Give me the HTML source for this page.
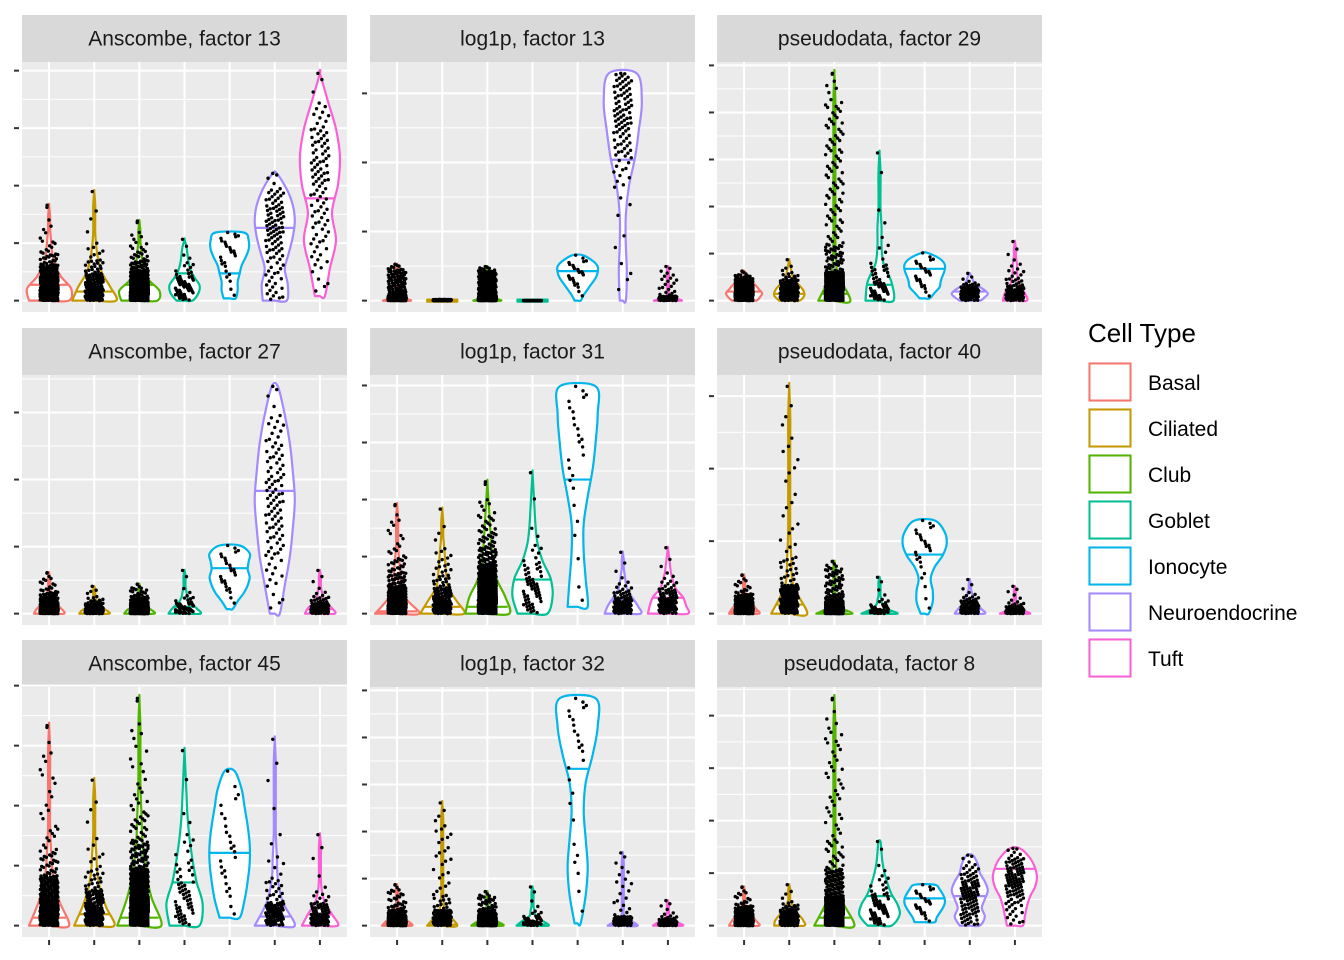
<!DOCTYPE html>
<html><head><meta charset="utf-8"><style>
html,body{margin:0;padding:0;background:#fff;}
svg{display:block;font-family:"Liberation Sans",sans-serif;}
</style></head><body>
<svg id="chart" width="1344" height="960" viewBox="0 0 1344 960" xmlns="http://www.w3.org/2000/svg"></svg>
<script>
// ---- data ----
const categories = ["Basal","Ciliated","Club","Goblet","Ionocyte","Neuroendocrine","Tuft"];
const colors = ["#F8766D","#C49A00","#53B400","#00C094","#00B6EB","#A58AFF","#FB61D7"];
const pointCounts = [500,200,700,60,25,100,100];
const panelTitles = ["Anscombe, factor 13","log1p, factor 13","pseudodata, factor 29",
  "Anscombe, factor 27","log1p, factor 31","pseudodata, factor 40",
  "Anscombe, factor 45","log1p, factor 32","pseudodata, factor 8"];
// tick step per panel (normalized units)
const tickSteps = [0.253,0.304,0.207, 0.295,0.251,0.319, 0.264,0.207,0.231];
// violin max per panel / category
const vMax = [
 [0.42,0.48,0.35,0.27,0.30,0.56,1.0],
 [0.16,0.005,0.15,0.0,0.2,1.0,0.15],
 [0.13,0.18,1.0,0.65,0.21,0.12,0.26],
 [0.18,0.12,0.13,0.19,0.30,1.0,0.19],
 [0.48,0.46,0.58,0.62,1.0,0.27,0.29],
 [0.17,1.0,0.23,0.16,0.41,0.15,0.12],
 [0.88,0.64,1.0,0.77,0.68,0.82,0.40],
 [0.18,0.54,0.15,0.17,1.0,0.32,0.11],
 [0.17,0.18,1.0,0.37,0.18,0.31,0.34]];
const vMin = [
 [0,0,0,0,0.01,0,0.02],
 [0,0,0,0,0,0,0],
 [0,0,0,0,0.01,0,0],
 [0,0,0,0,0.02,0,0],
 [0,0,0,0,0.03,0,0],
 [0,0,0,0,0,0,0],
 [0,0,0,0,0.035,0,0],
 [0,0,0,0,0.01,0,0],
 [0,0,0,0,0.015,0,0]];
const vMedian = [
 [0.07,0.04,0.07,0.12,0.12,0.32,0.45],
 [0,0,0,0,0.13,0.62,0],
 [0.04,0.03,0.03,0.07,0.14,0.04,0.02],
 [0.025,0.02,0.02,0.03,0.2,0.54,0.02],
 [0.01,0.03,0.03,0.15,0.59,0.06,0.07],
 [0.01,0.04,0.01,0.01,0.26,0.02,0.01],
 [0.035,0.05,0.035,0.19,0.32,0.04,0.05],
 [0.005,0.005,0.005,0.005,0.69,0.005,0.005],
 [0.035,0.05,0.035,0.13,0.12,0.13,0.25]];
// half-width profiles (px at 45px category spacing), 9 levels from min to max
const vWidth = [
 [[20,22,12,6,3,2,1,1,0],[22,16,8,4,2,1,1,1,0],[18,20,10,5,3,2,1,1,0],[8,14,15,10,6,4,3,2,0],[6,8,8,10,12,16,19,19,14],[12,13,10,14,18,20,18,12,2],[5,10,16,12,18,20,16,8,0]],
 [[14,2,1,1,1,1,1,1,0],[15,15,15,15,15,15,15,15,15],[14,2,1,1,1,1,1,1,0],[15,15,15,15,15,15,15,15,15],[3,6,10,14,18,20,20,15,5],[3,4,3,3,6,12,16,19,14],[14,2,1,1,1,1,1,1,0]],
 [[12,16,18,15,12,8,5,3,0],[10,15,14,10,5,3,2,1,0],[16,3,1,1,1,1,1,1,0],[14,12,4,2,2,1,1,1,0],[5,10,15,16,18,20,20,15,3],[10,15,18,15,10,5,3,2,0],[12,10,5,3,2,2,1,1,0]],
 [[15,12,6,3,2,1,1,1,0],[15,12,6,3,2,1,1,1,0],[15,12,6,3,2,1,1,1,0],[16,12,6,3,2,1,1,1,0],[3,8,14,18,20,18,19,20,10],[5,10,15,18,20,18,15,10,3],[15,12,6,3,2,1,1,1,0]],
 [[22,10,4,3,2,1,1,1,0],[22,14,6,4,3,2,1,1,0],[22,18,10,6,4,3,2,1,0],[15,20,18,10,5,3,2,1,0],[10,8,6,6,10,15,18,20,18],[18,15,10,5,3,2,1,1,0],[20,18,15,8,5,3,2,1,0]],
 [[15,12,8,4,2,1,1,1,0],[18,4,2,1,1,1,1,1,0],[18,5,2,1,1,1,1,1,0],[18,8,3,2,1,1,1,1,0],[4,8,8,6,10,18,22,20,10],[15,12,8,5,3,2,1,1,0],[15,8,3,2,1,1,1,1,0]],
 [[20,10,4,2,1,1,1,1,0],[20,12,6,3,2,1,1,1,0],[22,12,6,3,2,1,1,1,0],[15,18,12,8,5,3,2,1,0],[10,15,18,20,20,18,15,12,5],[20,8,3,2,1,1,1,1,0],[18,12,5,2,1,1,1,1,0]],
 [[15,10,3,2,1,1,1,1,0],[15,3,1,1,1,1,1,1,0],[16,10,3,2,1,1,1,1,0],[16,10,3,2,1,1,1,1,0],[3,8,10,8,6,8,15,20,18],[15,2,1,1,1,1,1,1,0],[15,10,3,2,1,1,1,1,0]],
 [[15,12,8,4,2,1,1,1,0],[15,14,10,5,3,1,1,1,0],[20,6,2,1,1,1,1,1,0],[12,20,18,12,8,5,3,2,1],[10,12,15,18,20,20,18,15,10],[10,15,12,15,18,15,10,8,3],[8,10,12,15,20,22,20,15,5]]];

// ---- layout ----
const colX = [22,370,717], panelW = 325;
const rowY = [62,375,687], panelH = 250, stripH = 47;
const NS = "http://www.w3.org/2000/svg";
const svg = document.getElementById("chart");
function mk(tag, attrs, parent){const e=document.createElementNS(NS,tag);for(const k in attrs)e.setAttribute(k,attrs[k]);(parent||svg).appendChild(e);return e;}
function smoothPath(pts){
  let d="M"+pts[0][0].toFixed(1)+","+pts[0][1].toFixed(1);
  for(let i=0;i<pts.length-1;i++){
    const p0=pts[Math.max(0,i-1)],p1=pts[i],p2=pts[i+1],p3=pts[Math.min(pts.length-1,i+2)];
    const c1=[p1[0]+(p2[0]-p0[0])/6,p1[1]+(p2[1]-p0[1])/6];
    const c2=[p2[0]-(p3[0]-p1[0])/6,p2[1]-(p3[1]-p1[1])/6];
    d+=" C"+c1[0].toFixed(1)+","+c1[1].toFixed(1)+" "+c2[0].toFixed(1)+","+c2[1].toFixed(1)+" "+p2[0].toFixed(1)+","+p2[1].toFixed(1);
  }
  return d+" Z";
}

panelTitles.forEach((title,p)=>{
  const r=Math.floor(p/3), c=p%3;
  const L=colX[c], T=rowY[r];
  const unit = panelH/1.1;
  const yScale = v => T + panelH - 0.05*unit - v*unit;
  const catW = panelW/7.2;
  const xScale = i => L + (0.6+i)*catW;
  const g = mk("g",{});
  
  
  const strip = mk("rect",{x:L,y:T-stripH,width:panelW,height:stripH,fill:"#D9D9D9"},g);
  
  
  const st = mk("text",{x:L+panelW/2,y:T-stripH/2+7,"text-anchor":"middle","font-size":"21",fill:"#1A1A1A"},g);
  st.textContent=title;
  
  
  const bg = mk("rect",{x:L,y:T,width:panelW,height:panelH,fill:"#EBEBEB"},g);
  
  
  const step = tickSteps[p];
  for(let v=-step/2; v<=1.06; v+=step){ const y=yScale(v); if(y>T&&y<T+panelH) mk("line",{x1:L,x2:L+panelW,y1:y,y2:y,stroke:"#fff","stroke-width":1},g);}
  for(let v=0; v<=1.06; v+=step){ const y=yScale(v);
    mk("line",{x1:L,x2:L+panelW,y1:y,y2:y,stroke:"#fff","stroke-width":2},g);
    const tk=mk("line",{x1:L-8,x2:L-3,y1:y,y2:y,stroke:"#333","stroke-width":2},g);
    
    
  }
  categories.forEach((cat,i)=>{
    const x=xScale(i);
    mk("line",{x1:x,x2:x,y1:T,y2:T+panelH,stroke:"#fff","stroke-width":2},g);
    if(r===2){const bt=mk("line",{x1:x,x2:x,y1:T+panelH+3,y2:T+panelH+8,stroke:"#333","stroke-width":2},g);
      
      }
  });
  categories.forEach((cat,i)=>{
    const x=xScale(i), mn=vMin[p][i], mx=vMax[p][i], md=vMedian[p][i], W=vWidth[p][i];
    const s = catW/45;
    const levels = W.map((w,k)=>mn+(mx-mn)*k/8);
    let d;
    if(mx-mn<0.01){const y=yScale(mn); d="M"+(x-W[0]*s)+","+(y-1)+" H"+(x+W[0]*s)+" V"+(y+1)+" H"+(x-W[0]*s)+" Z";}
    else{
      const right=levels.map((v,k)=>[x+W[k]*s, yScale(v)]);
      const left=levels.map((v,k)=>[x-W[k]*s, yScale(v)]).reverse();
      d=smoothPath([[x,yScale(mn)],...right,...left]);
    }
    const vi=mk("path",{d:d,fill:"#fff",stroke:colors[i],"stroke-width":2.2,"stroke-linejoin":"round"},g);
    
    
    let wm=W[0];
    if(mx>mn){const f=Math.min(8,Math.max(0,(md-mn)/(mx-mn)*8));const k=Math.min(7,Math.floor(f));wm=W[k]+(W[k+1]-W[k])*(f-k);}
    const ml=mk("line",{x1:x-wm*s,x2:x+wm*s,y1:yScale(md),y2:yScale(md),stroke:colors[i],"stroke-width":2.2},g);
    
    
    // jitter points sampled from density ~ width^1.6
    const n=pointCounts[i];
    const cum=[0]; for(let k=0;k<8;k++){const a=(W[k]+W[k+1])/2; cum.push(cum[k]+Math.pow(a,1.6)+0.02);}
    const tot=cum[8];
    for(let j=0;j<n;j++){
      const u=((j+0.5)*0.6180339887)%1, jx=((j+0.3)*0.7548776662)%1;
      let t=u*tot,k=0; while(k<7&&cum[k+1]<t)k++;
      const fr=(t-cum[k])/(cum[k+1]-cum[k]||1);
      const v=mn+(mx-mn)*(k+fr)/8;
      mk("circle",{cx:x+(jx-0.5)*0.4*catW,cy:yScale(v),r:1.7,fill:"#000"},g);
    }
    if(mx>mn) mk("circle",{cx:x-2,cy:yScale(mx),r:1.7,fill:"#000"},g);
  });
});
const lg = mk("g",{});


const lt=mk("text",{x:1088,y:342,"font-size":"26",fill:"#000"},lg);
lt.textContent="Cell Type";


categories.forEach((cat,i)=>{
  const y=362+i*46;
  const e=mk("g",{},lg);
  
  
  mk("rect",{x:1088,y:y,width:44,height:40,fill:"#F2F2F2"},e);
  mk("rect",{x:1089.5,y:y+1.5,width:41,height:37,fill:"#fff",stroke:colors[i],"stroke-width":2},e);
  const t=mk("text",{x:1148,y:y+28,"font-size":"21",fill:"#000"},e);
  t.textContent=cat;
});
</script>
</body></html>
